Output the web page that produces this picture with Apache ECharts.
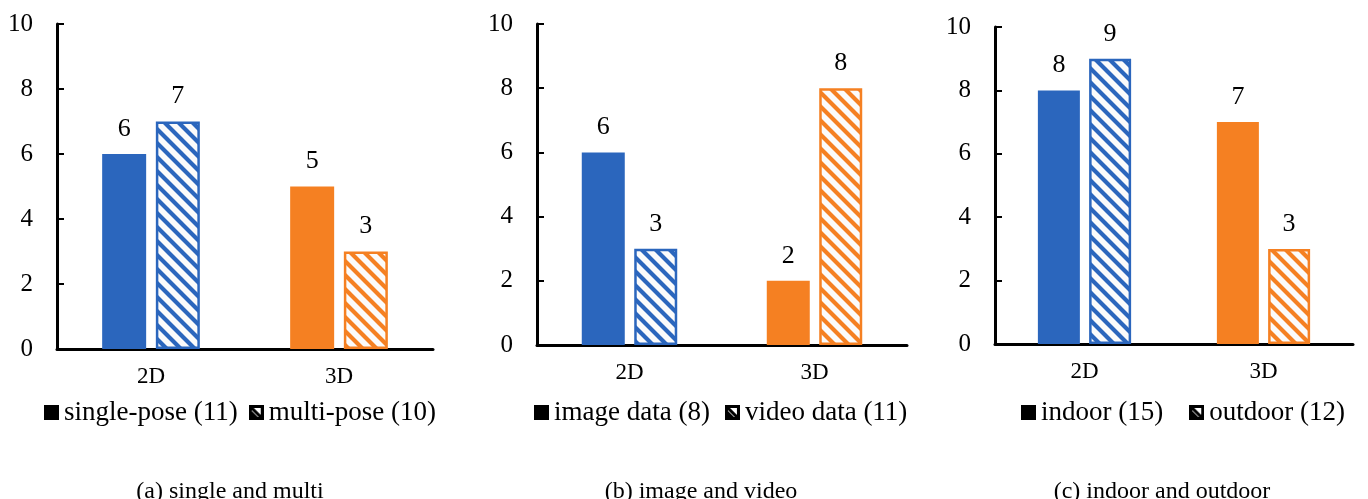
<!DOCTYPE html>
<html>
<head>
<meta charset="utf-8">
<script src="https://cdn.jsdelivr.net/npm/echarts@6/dist/echarts.min.js"></script>
<style>
  html, body { margin: 0; padding: 0; background: #fff; }
  #chart { width: 1368px; height: 499px; }
</style>
</head>
<body>
<div id="chart"></div>
<script>
// Categories shared by all three panels
const categories = ['2D', '3D'];

// (a) single vs multi pose
const singlePose = [6, 5];
const multiPose = [7, 3];
// (b) image vs video data
const imageData = [6, 2];
const videoData = [3, 8];
// (c) indoor vs outdoor
const indoor = [8, 7];
const outdoor = [9, 3];

const seriesNames = [
  ['single-pose (11)', 'multi-pose (10)'],
  ['image data (8)', 'video data (11)'],
  ['indoor (15)', 'outdoor (12)']
];
const subtitles = ['(a) single and multi', '(b) image and video', '(c) indoor and outdoor'];

const yMin = 0, yMax = 10, yStep = 2;

const BLUE = '#2B66BD';
const ORANGE = '#F58022';
const FONT = '"Liberation Serif", "Times New Roman", serif';

// Diagonal "\" hatch tile
function hatchTile(color) {
  const s = 14;
  const c = document.createElement('canvas');
  c.width = s; c.height = s;
  const g = c.getContext('2d');
  g.fillStyle = '#fbfbfb';
  g.fillRect(0, 0, s, s);
  g.strokeStyle = color;
  g.lineWidth = 4.2;
  g.beginPath();
  for (const off of [-s, 0, s]) {
    g.moveTo(off - 2, -2);
    g.lineTo(off + s + 2, s + 2);
  }
  g.stroke();
  return c;
}

// Small legend glyph for the hatched series
function hatchIcon() {
  const s = 15;
  const c = document.createElement('canvas');
  c.width = s; c.height = s;
  const g = c.getContext('2d');
  g.fillStyle = '#fff';
  g.fillRect(0, 0, s, s);
  g.fillStyle = '#000';
  g.beginPath();
  g.moveTo(0, 3); g.lineTo(0, s); g.lineTo(s - 3, s); g.closePath();
  g.fill();
  g.strokeStyle = '#000';
  g.lineWidth = 3;
  g.strokeRect(1.5, 1.5, s - 3, s - 3);
  g.lineWidth = 3;
  g.beginPath(); g.moveTo(2, 2); g.lineTo(s - 2, s - 2); g.stroke();
  return c.toDataURL();
}

const blueHatch = hatchTile(BLUE);
const orangeHatch = hatchTile(ORANGE);
const legendHatch = hatchIcon();
const catColors = [BLUE, ORANGE];
const catHatch = [blueHatch, orangeHatch];

const panelData = [
  [singlePose, multiPose],
  [imageData, videoData],
  [indoor, outdoor]
];

const grids = [
  { left: 57, top: 24, width: 376, height: 325 },
  { left: 537, top: 24, width: 370, height: 321 },
  { left: 995, top: 27, width: 358, height: 317 }
];
const barWidths = [44, 43, 42];
const legendLayout = [
  { left: 39, gap: 11 },
  { left: 529, gap: 15 },
  { left: 1016, gap: 26 }
];
const subtitleCenters = [225, 696, 1157];

const xAxes = [], yAxes = [], series = [], legends = [], titles = [];

grids.forEach((gr, i) => {
  xAxes.push({
    type: 'category', gridIndex: i, data: categories,
    axisLine: { lineStyle: { color: '#000', width: 3 } },
    axisTick: { inside: true, length: 7, lineStyle: { color: '#000', width: 2 } },
    axisLabel: { color: '#000', fontSize: 23, fontFamily: FONT, margin: 16 }
  });
  yAxes.push({
    type: 'value', gridIndex: i, min: yMin, max: yMax, interval: yStep,
    axisLine: { show: true, lineStyle: { color: '#000', width: 3 } },
    axisTick: { show: true, inside: true, length: 7, lineStyle: { color: '#000', width: 2 } },
    splitLine: { show: false },
    axisLabel: { color: '#000', fontSize: 25, fontFamily: FONT, margin: 24 }
  });
  const [solidVals, hatchVals] = panelData[i];
  const label = {
    show: true, position: 'top', distance: 12,
    color: '#000', fontSize: 26, fontFamily: FONT
  };
  series.push({
    name: seriesNames[i][0], type: 'bar', xAxisIndex: i, yAxisIndex: i,
    barWidth: barWidths[i], barGap: '22%', label,
    itemStyle: { color: '#000' },
    data: solidVals.map((v, k) => ({ value: v, itemStyle: { color: catColors[k] } }))
  });
  series.push({
    name: seriesNames[i][1], type: 'bar', xAxisIndex: i, yAxisIndex: i,
    barWidth: barWidths[i], barGap: '22%', label,
    itemStyle: { color: '#000' },
    data: hatchVals.map((v, k) => ({
      value: v,
      itemStyle: {
        color: { image: catHatch[k], repeat: 'repeat' },
        borderColor: catColors[k], borderWidth: 2.5
      }
    }))
  });
  legends.push({
    left: legendLayout[i].left, top: 394,
    itemWidth: 15, itemHeight: 15, itemGap: legendLayout[i].gap, itemTextGap: 5,
    selectedMode: false,
    textStyle: { color: '#000', fontSize: 27, fontFamily: FONT },
    data: [
      { name: seriesNames[i][0], icon: 'rect', itemStyle: { color: '#000' } },
      { name: seriesNames[i][1], icon: 'image://' + legendHatch }
    ]
  });
  titles.push({
    text: subtitles[i], left: subtitleCenters[i], top: 475, textAlign: 'center',
    textStyle: { color: '#000', fontSize: 24, fontWeight: 'normal', fontFamily: FONT }
  });
});

const chart = echarts.init(document.getElementById('chart'), null, { renderer: 'canvas' });
chart.setOption({
  animation: false,
  backgroundColor: '#fff',
  title: titles,
  grid: grids,
  xAxis: xAxes,
  yAxis: yAxes,
  legend: legends,
  series
});
</script>
</body>
</html>
